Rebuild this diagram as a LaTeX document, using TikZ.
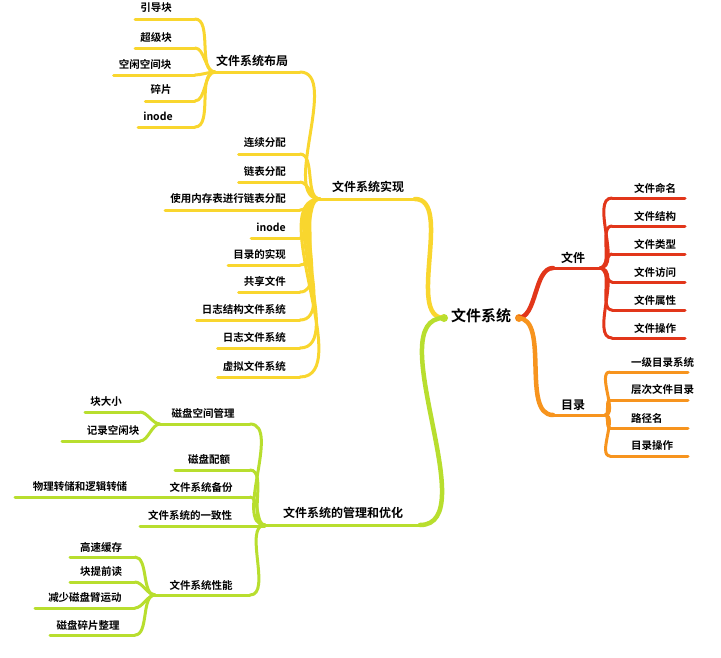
\documentclass[tikz,border=0pt]{standalone}
\usepackage{fontspec}
\setmainfont{Noto Sans CJK SC}[BoldFont={Noto Sans CJK SC Bold}]
\begin{document}
\begin{tikzpicture}[x=1pt,y=-1pt,
  lbl/.style={font=\bfseries\fontsize{10.5}{12}\selectfont, inner sep=0pt},
  big/.style={font=\bfseries\fontsize{12}{14}\selectfont, inner sep=0pt},
  br/.style={line width=3pt, line cap=round},
  thick br/.style={line width=4.5pt, line cap=round},
  every to/.style={looseness=0.8}]
\definecolor{cred}{HTML}{E2361A}
\definecolor{corange}{HTML}{F7941E}
\definecolor{cyellow}{HTML}{F9D62E}
\definecolor{cgreen}{HTML}{B8DE2E}
\useasboundingbox (0,0) rectangle (721,657);
\fill[white] (0,0) rectangle (721,657);
\newcommand{\ulin}[5]{\coordinate (#1L) at (#3,#5); \coordinate (#1R) at (#4,#5);
  \draw[br,#2] (#1L) -- (#1R);}
% root
\node[font=\bfseries\fontsize{15}{17}\selectfont, inner sep=0pt] (root) at (481,316) {文件系统};
\coordinate (rootR) at (518,318);
\coordinate (rootL) at (444,318);
\fill[cgreen] (444,318) circle (4);
\fill[corange] (519,318) circle (4);
% ===== 文件 =====
\node[big] (wj) at (573,258) {文件};
\ulin{wj}{cred}{553}{600}{268}
\draw[thick br,cred] (rootR) to[out=0,in=180] (wjL);
\foreach \t/\y/\n in {文件命名/188/a,文件结构/216/b,文件类型/244/c,文件访问/272/d,文件属性/300/e,文件操作/328/f}{
  \node[lbl] (wj\n) at (655,\y) {\t};
  \draw[br,cred] (612,\y+10) -- (685,\y+10);
  \draw[br,cred] (wjR) to[out=0,in=180] (612,\y+10);
}
% ===== 目录 =====
\node[big] (ml) at (573,405) {目录};
\ulin{ml}{corange}{553}{605}{415}
\draw[thick br,corange] (rootR) to[out=0,in=180] (mlL);
\foreach \t/\y/\n in {一级目录系统/362/a,层次文件目录/390/b,路径名/418/c,目录操作/446/d}{
  \node[lbl,anchor=west] (ml\n) at (631,\y) {\t};
  \draw[br,corange] (610,\y+10) -- (688,\y+10);
  \draw[br,corange] (mlR) to[out=0,in=180] (610,\y+10);
}
% ===== 文件系统实现 =====
\node[big] (sx) at (368,187) {文件系统实现};
\ulin{sx}{cyellow}{320}{415}{199}
\draw[thick br,cyellow] (rootL) to[out=180,in=0] (sxR);
\foreach \t/\y/\n in {连续分配/143/a,链表分配/171/b,使用内存表进行链表分配/199/c,inode/227/d,目录的实现/254/e,共享文件/281/f,日志结构文件系统/309/g,日志文件系统/337/h,虚拟文件系统/366/i}{
  \node[lbl,anchor=east] (sx\n) at (286,\y) {\t};
  \draw[br,cyellow] ([xshift=-5pt]sx\n.west |- 0,\y+11) -- (300,\y+11);
  \draw[br,cyellow] (sxL) to[out=180,in=0] (300,\y+11);
}
% 文件系统布局
\node[big] (bj) at (252,61) {文件系统布局};
\ulin{bj}{cyellow}{215}{300}{72}
\draw[br,cyellow] (sxL) to[out=180,in=0] (bjR);
\foreach \t/\y/\x/\n in {引导块/8/156/a,超级块/37/156/b,空闲空间块/64/145/c,碎片/90/161/d,inode/116/158/e}{
  \node[lbl] (bj\n) at (\x,\y) {\t};
  \draw[br,cyellow] ([xshift=-5pt]bj\n.west |- 0,\y+11) -- (195,\y+11);
  \draw[br,cyellow] (bjL) to[out=180,in=0] (195,\y+11);
}
% ===== 管理和优化 =====
\node[big] (gl) at (343,513) {文件系统的管理和优化};
\ulin{gl}{cgreen}{265}{420}{525}
\draw[thick br,cgreen] (rootL) to[out=180,in=0] (glR);
\node[lbl] (kj) at (203,413) {磁盘空间管理};
\draw[br,cgreen] (160,424) -- (250,424);
\draw[br,cgreen] (glL) to[out=180,in=0] (250,424);
\node[lbl] (kjA) at (106,402) {块大小};
\draw[br,cgreen] (85,412) -- (140,412);
\draw[br,cgreen] (160,424) to[out=180,in=0] (140,412);
\node[lbl] (kjB) at (113,430) {记录空闲块};
\draw[br,cgreen] (62,441) -- (140,441);
\draw[br,cgreen] (160,424) to[out=180,in=0] (140,441);
\node[lbl] (pe) at (209,459) {磁盘配额};
\draw[br,cgreen] (175,470) -- (250,470);
\draw[br,cgreen] (glL) to[out=180,in=0] (250,470);
\node[lbl] (bf) at (201,487) {文件系统备份};
\draw[br,cgreen] (160,497) -- (250,497);
\draw[br,cgreen] (glL) to[out=180,in=0] (250,497);
\node[lbl] (bfA) at (80,487) {物理转储和逻辑转储};
\draw[br,cgreen] (15,497) -- (160,497);
\node[lbl] (yz) at (190,515) {文件系统的一致性};
\draw[br,cgreen] (140,526) -- (265,526);
\node[lbl] (xn) at (201,585) {文件系统性能};
\draw[br,cgreen] (155,595) -- (250,595);
\draw[br,cgreen] (glL) to[out=180,in=0] (250,595);
\foreach \t/\y/\x/\a/\n in {高速缓存/547/101/70/a,块提前读/572/101/70/b,减少磁盘臂运动/598/85/35/c,磁盘碎片整理/625/88/50/d}{
  \node[lbl] (xn\n) at (\x,\y) {\t};
  \draw[br,cgreen] (\a,\y+10) -- (135,\y+10);
  \draw[br,cgreen] (155,595) to[out=180,in=0] (135,\y+10);
}
\end{tikzpicture}
\end{document}
